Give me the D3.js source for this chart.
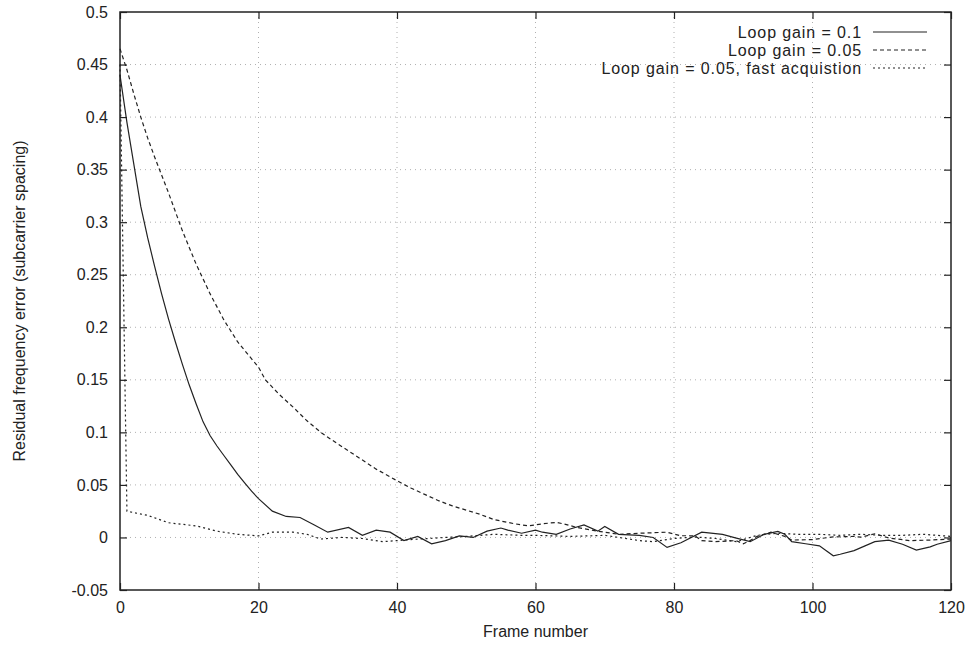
<!DOCTYPE html>
<html>
<head>
<meta charset="utf-8">
<script src="https://cdn.jsdelivr.net/npm/d3@7"></script>
<style>
  html, body { margin: 0; padding: 0; background: #fff; }
  svg { display: block; font-family: "Liberation Sans", Arial, Helvetica, sans-serif; }
</style>
</head>
<body>
<div id="chart"></div>
<script>
// Values, frame number -> residual error
const gain01Frames = [0, 1, 2, 3, 4, 5, 6, 7, 8, 9, 10, 11, 12, 13, 14, 15, 16, 17, 18, 19, 20, 22, 24, 26, 28, 30, 33, 35, 37, 39, 41, 43, 45, 47, 49, 51, 53, 55, 56, 58, 60, 61, 63, 65, 67, 69, 70, 72, 75, 77, 79, 81, 84, 87, 89, 91, 93, 95, 96, 97, 99, 101, 103, 104, 106, 109, 111, 113, 115, 117, 118, 120];
const gain01Values = [0.44, 0.395, 0.355, 0.315, 0.285, 0.258, 0.232, 0.208, 0.186, 0.165, 0.145, 0.127, 0.11, 0.097, 0.087, 0.078, 0.069, 0.06, 0.052, 0.044, 0.037, 0.025, 0.02, 0.019, 0.012, 0.005, 0.0095, 0.002, 0.007, 0.005, -0.003, 0.001, -0.006, -0.003, 0.0015, 0.0, 0.006, 0.009, 0.007, 0.004, 0.007, 0.005, 0.003, 0.008, 0.012, 0.006, 0.0105, 0.003, 0.002, 0.0, -0.0095, -0.005, 0.005, 0.003, -0.0006, -0.004, 0.003, 0.0057, 0.003, -0.004, -0.006, -0.008, -0.0175, -0.016, -0.0125, -0.004, -0.0025, -0.0065, -0.012, -0.009, -0.0065, -0.003];

const gain005Frames = [0, 1, 2, 3, 4, 5, 6, 7, 8, 9, 10, 11, 13, 15, 17, 20, 21, 23, 25, 27, 29, 31, 34, 37, 40, 42, 44, 46, 48, 50, 52, 54, 57, 59, 61, 63, 64, 66, 69, 72, 75, 79, 81, 83, 84, 86, 89, 90, 91, 92, 94, 96, 97, 100, 103, 106, 107, 109, 111, 114, 117, 120];
const gain005Values = [0.465, 0.445, 0.422, 0.4, 0.38, 0.362, 0.345, 0.328, 0.31, 0.292, 0.276, 0.26, 0.232, 0.207, 0.186, 0.162, 0.15, 0.136, 0.124, 0.111, 0.1, 0.091, 0.078, 0.065, 0.054, 0.047, 0.041, 0.035, 0.03, 0.026, 0.022, 0.017, 0.013, 0.011, 0.013, 0.0143, 0.013, 0.0095, 0.006, 0.003, 0.004, 0.005, 0.0016, 0.0016, -0.003, -0.004, -0.003, -0.006, -0.003, 0.001, 0.005, 0.001, -0.0025, -0.002, 0.0005, 0.001, 0.0003, 0.0035, -0.0005, -0.003, -0.0025, -0.0015];

const fastFrames = [0, 1, 4, 7, 11, 14, 17, 20, 22, 25, 27, 29, 32, 35, 38, 42, 47, 50, 54, 58, 60, 65, 70, 72, 75, 77, 80, 83, 86, 89, 92, 95, 98, 101, 104, 107, 110, 113, 116, 120];
const fastValues = [0.45, 0.025, 0.021, 0.014, 0.011, 0.006, 0.003, 0.0015, 0.005, 0.005, 0.003, -0.0015, 0.0, -0.001, -0.004, -0.002, 0.0, 0.001, 0.003, 0.002, 0.002, 0.001, 0.002, 0.0, -0.003, -0.004, -0.001, 0.0005, -0.001, -0.004, 0.002, 0.004, 0.003, 0.003, 0.002, 0.003, 0.002, 0.002, 0.003, 0.001];

const xTicks = [0, 20, 40, 60, 80, 100, 120];
const yTicks = [-0.05, 0, 0.05, 0.1, 0.15, 0.2, 0.25, 0.3, 0.35, 0.4, 0.45, 0.5];

const legendLabels = ['Loop gain = 0.1', 'Loop gain = 0.05', 'Loop gain = 0.05, fast acquistion'];
const lineDashes = ['', '4,3', '2,3'];

const width = 967, height = 648;
const plotLeft = 120, plotRight = 951, plotTop = 12, plotBottom = 590;

const svg = d3.select('#chart').append('svg')
    .attr('width', width)
    .attr('height', height);

const x = d3.scaleLinear().domain([0, 120]).range([plotLeft, plotRight]);
const y = d3.scaleLinear().domain([-0.05, 0.5]).range([plotBottom, plotTop]);

// grid
svg.append('g')
    .selectAll('line')
    .data(xTicks.slice(1, -1))
    .join('line')
    .attr('x1', d => x(d)).attr('x2', d => x(d))
    .attr('y1', plotTop).attr('y2', plotBottom)
    .attr('stroke', '#b0b0b0')
    .attr('stroke-dasharray', '1,4');

svg.append('g')
    .selectAll('line')
    .data(yTicks.slice(1, -1))
    .join('line')
    .attr('x1', plotLeft).attr('x2', plotRight)
    .attr('y1', d => y(d)).attr('y2', d => y(d))
    .attr('stroke', '#b0b0b0')
    .attr('stroke-dasharray', '1,4');

// axes, ticks pointing inward on all four sides
const fmt = d => String(+d.toFixed(2));

svg.append('g')
    .attr('transform', `translate(0,${plotBottom})`)
    .call(d3.axisBottom(x).tickValues(xTicks).tickSize(-7).tickPadding(12).tickFormat(d => d));
svg.append('g')
    .attr('transform', `translate(0,${plotTop})`)
    .call(d3.axisTop(x).tickValues(xTicks).tickSize(-7).tickFormat(''));
svg.append('g')
    .attr('transform', `translate(${plotLeft},0)`)
    .call(d3.axisLeft(y).tickValues(yTicks).tickSize(-7).tickPadding(12).tickFormat(fmt));
svg.append('g')
    .attr('transform', `translate(${plotRight},0)`)
    .call(d3.axisRight(y).tickValues(yTicks).tickSize(-7).tickFormat(''));

svg.selectAll('.domain').remove();
svg.selectAll('.tick line').attr('stroke', '#222').attr('stroke-width', 1.2);
svg.selectAll('.tick text')
    .attr('fill', '#222')
    .style('font-size', '16px')
    .style('font-family', '"Liberation Sans", Arial, sans-serif');

// frame
svg.append('rect')
    .attr('x', plotLeft).attr('y', plotTop)
    .attr('width', plotRight - plotLeft).attr('height', plotBottom - plotTop)
    .attr('fill', 'none')
    .attr('stroke', '#222')
    .attr('stroke-width', 1.5);

// series
const series = [
    { frames: gain01Frames, values: gain01Values },
    { frames: gain005Frames, values: gain005Values },
    { frames: fastFrames, values: fastValues }
];

const line = d3.line()
    .x(d => x(d[0]))
    .y(d => y(d[1]));

series.forEach((s, i) => {
    svg.append('path')
        .datum(s.frames.map((f, j) => [f, s.values[j]]))
        .attr('fill', 'none')
        .attr('stroke', '#222')
        .attr('stroke-width', 1.2)
        .attr('stroke-dasharray', lineDashes[i])
        .attr('d', line);
});

// legend
legendLabels.forEach((label, i) => {
    const ly = 32 + i * 18;
    svg.append('text')
        .attr('x', 862)
        .attr('y', ly)
        .attr('dy', '0.35em')
        .attr('text-anchor', 'end')
        .style('font-size', '16px')
        .style('letter-spacing', '0.9px')
        .attr('fill', '#222')
        .text(label);
    svg.append('line')
        .attr('x1', 873).attr('x2', 927)
        .attr('y1', ly).attr('y2', ly)
        .attr('stroke', '#222')
        .attr('stroke-width', 1.2)
        .attr('stroke-dasharray', lineDashes[i]);
});

// axis titles
svg.append('text')
    .attr('x', (plotLeft + plotRight) / 2)
    .attr('y', 637)
    .attr('text-anchor', 'middle')
    .style('font-size', '16px')
    .attr('fill', '#222')
    .text('Frame number');

svg.append('text')
    .attr('transform', `translate(25,${(plotTop + plotBottom) / 2}) rotate(-90)`)
    .attr('text-anchor', 'middle')
    .style('font-size', '16px')
    .attr('fill', '#222')
    .text('Residual frequency error (subcarrier spacing)');
</script>
</body>
</html>
